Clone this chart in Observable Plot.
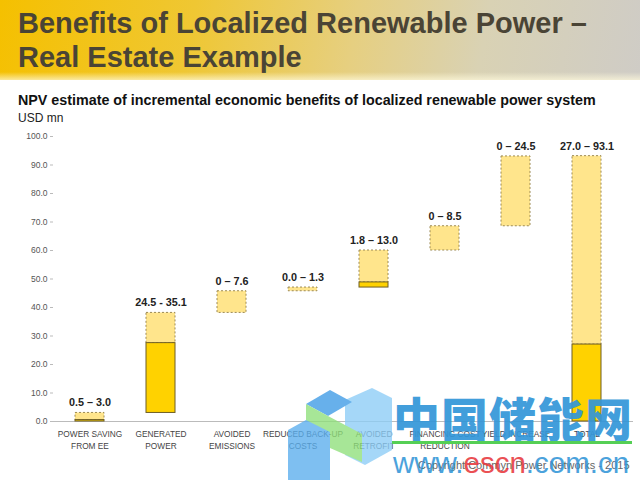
<!DOCTYPE html>
<html>
<head>
<meta charset="utf-8">
<script src="https://cdn.jsdelivr.net/npm/d3@7"></script>
<script src="https://cdn.jsdelivr.net/npm/@observablehq/plot@0.6"></script>
<style>
  html, body { margin: 0; padding: 0; background: #fff; }
  #page { position: relative; width: 640px; height: 480px; overflow: hidden; font-family: "Liberation Sans", Arial, sans-serif; }
  #header { position: absolute; left: 0; top: 0; width: 640px; height: 80px;
    background: linear-gradient(100deg, #f5c000 0%, #efc733 30%, #e6cf80 55%, #d9d2b4 75%, #cfccc6 100%); }
  #header::after { content: ""; position: absolute; left: 0; right: 0; bottom: 0; height: 8px;
    background: linear-gradient(180deg, rgba(255,255,255,0), rgba(255,250,220,0.7)); }
  #title { position: absolute; left: 18px; top: 6px; font-size: 29px; font-weight: bold; color: #4a4435; line-height: 34px; }
  #subtitle { position: absolute; left: 18px; top: 92px; font-size: 14.3px; font-weight: bold; color: #111; }
  #unit { position: absolute; left: 18px; top: 111px; font-size: 12px; color: #222; }
  #chart { position: absolute; left: 0; top: 125px; }
  #copyright { position: absolute; left: 418px; top: 459px; font-size: 11px; color: #666; }
  .wm { position: absolute; pointer-events: none; }
  #wm-logo { left: 0; top: 0; opacity: 0.78; }
  #wm-cn { left: 393px; top: 382px; font-family: "Noto Sans CJK SC", sans-serif; font-weight: 900; font-size: 47px; color: #3396d8; letter-spacing: 1px; opacity: 0.92; }
  #wm-line { left: 392px; top: 441px; width: 240px; height: 3px; background: #55cf55; }
  #wm-url { left: 393px; top: 446px; font-size: 29.5px; line-height: 34px; color: #3396d8; opacity: 0.88; }
  #wm-url span { color: #e8383d; }
</style>
</head>
<body>
<div id="page">
  <div id="header"><div id="title">Benefits of Localized Renewable Power –<br>Real Estate Example</div></div>
  <div id="subtitle">NPV estimate of incremental economic benefits of localized renewable power system</div>
  <div id="unit">USD mn</div>
  <div id="chart"></div>
  <div id="copyright">Copyright Commyn Power Networks - 2015</div>
  <svg class="wm" id="wm-logo" width="640" height="480">
    <polygon points="345,400 372,388 392,398 392,450 365,465 345,455" fill="#8ccdf7"/>
    <polygon points="306,404 330,390 352,402 328,416" fill="#3d9be6"/>
    <polygon points="306,404 328,416 362,434 362,462 330,448 306,436" fill="#8fe07a"/>
    <polygon points="288,430 306,420 330,432 330,480 288,480" fill="#5aaeee"/>
  </svg>
  <div class="wm" id="wm-cn">中国储能网</div>
  <div class="wm" id="wm-line"></div>
  <div class="wm" id="wm-url">www.<span>escn</span>.com.cn</div>
</div>
<script>
const categories = ["POWER SAVING\nFROM EE", "GENERATED\nPOWER", "AVOIDED\nEMISSIONS", "REDUCED BACK-UP\nCOSTS", "AVOIDED\nRETROFIT", "FINANCING COST\nREDUCTION", "YIELD INCREASE", "TOTAL"];
const lowValues  = [0.5, 24.5, 0.0, 0.0, 1.8, 0.0, 0.0, 27.0];
const highValues = [3.0, 35.1, 7.6, 1.3, 13.0, 8.5, 24.5, 93.1];
const rangeLabels = ["0.5 – 3.0", "24.5 - 35.1", "0 – 7.6", "0.0 – 1.3", "1.8 – 13.0", "0 – 8.5", "0 – 24.5", "27.0 – 93.1"];
const isTotal = [false, false, false, false, false, false, false, true];
const yTicks = [0, 10, 20, 30, 40, 50, 60, 70, 80, 90, 100];

// waterfall bases: each step starts at the cumulative high of the previous steps; total starts at 0
let running = 0;
const data = categories.map((c, i) => {
  const base = isTotal[i] ? 0 : running;
  if (!isTotal[i]) running += highValues[i];
  return {cat: c, base, low: lowValues[i], high: highValues[i], label: rangeLabels[i]};
});

const W = 640, H = 355, ML = 53, MR = 17, MT = 11, MB = 59;

const chart = Plot.plot({
  width: W, height: H,
  marginLeft: ML, marginRight: MR, marginTop: MT, marginBottom: MB,
  style: {fontFamily: "'Liberation Sans', Arial, sans-serif", background: "transparent", overflow: "visible"},
  x: {domain: categories, paddingInner: 0.59, paddingOuter: 0.295, axis: null},
  y: {domain: [0, 100], axis: null},
  marks: [
    Plot.axisY({ticks: yTicks, tickFormat: d3.format(".1f"), tickSize: 3, tickPadding: 3, fontSize: 8.5, color: "#555", stroke: "#bbb", line: true, label: null}),
    Plot.ruleY([0], {stroke: "#bbb", strokeWidth: 1, insetRight: -10}),
    // upper (uncertain) portion: dashed box
    Plot.barY(data, {x: "cat", y1: d => d.base + d.low, y2: d => d.base + d.high, fill: "#ffe58c", stroke: "#9c8a55", strokeWidth: 1, strokeDasharray: "2,2"}),
    // lower (firm) portion: solid box
    Plot.barY(data.filter(d => d.low > 0), {x: "cat", y1: "base", y2: d => d.base + d.low, fill: "#ffd200", stroke: "#6e5e25", strokeWidth: 1}),
    Plot.text(data, {x: "cat", y: d => d.base + d.high, text: "label", dy: -10, fontSize: 10.8, fontWeight: "bold", fill: "#222"}),
    Plot.text(data, {x: "cat", y: 0, text: "cat", dy: 8, lineAnchor: "top", lineHeight: 1.35, fontSize: 8.3, fill: "#444"})
  ]
});
document.getElementById("chart").appendChild(chart);
</script>
</body>
</html>
